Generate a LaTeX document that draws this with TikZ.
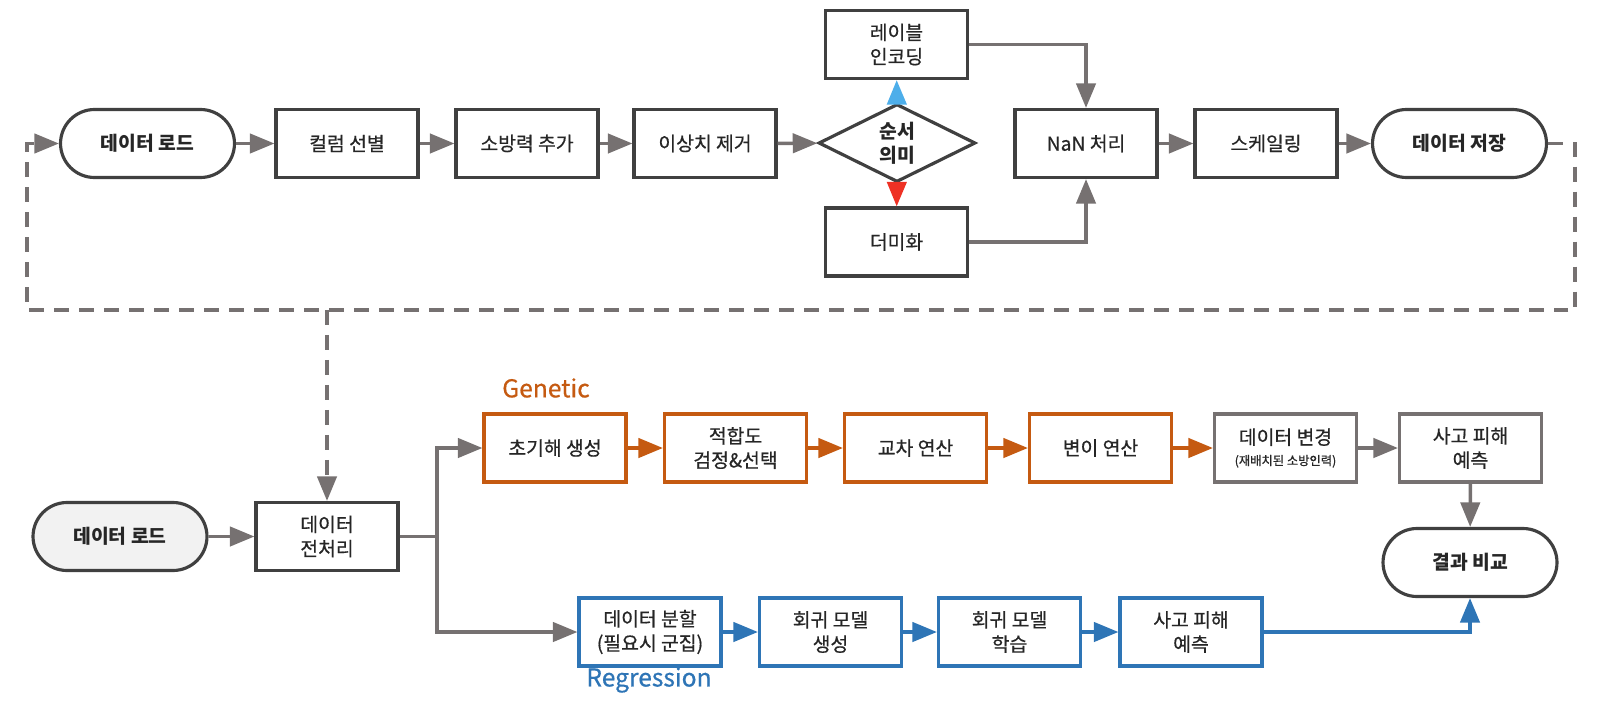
\documentclass[tikz,border=0pt]{standalone}
\usepackage{fontspec}
\setmainfont{Noto Sans CJK KR}[UprightFeatures={FakeBold=0.6}]
\usetikzlibrary{arrows.meta,shapes.geometric}

\definecolor{boxline}{HTML}{404040}
\definecolor{txt}{HTML}{262626}
\definecolor{conn}{HTML}{767171}
\definecolor{orng}{HTML}{C55A11}
\definecolor{blu}{HTML}{2E75B6}
\definecolor{skyb}{HTML}{4DAEEA}
\definecolor{redd}{HTML}{EE3124}
\definecolor{lgray}{HTML}{F2F2F2}

\begin{document}
\begin{tikzpicture}[x=0.02cm,y=-0.02cm,
  box/.style={draw=boxline,line width=1.8pt,minimum width=2.84cm,minimum height=1.36cm,inner sep=0pt,align=center,text=txt,font=\fontsize{11}{13.8}\selectfont},
  term/.style={box,rounded corners=0.68cm,minimum width=3.48cm,font=\fontsize{11}{13.8}\selectfont\bfseries},
  dia/.style={box,diamond,minimum width=3.14cm,minimum height=1.32cm,font=\fontsize{11}{13.8}\selectfont\bfseries},
  gbox/.style={box,draw=orng},
  rbox/.style={box,draw=blu},
  xbox/.style={box,draw=conn},
  arr/.style={color=conn,line width=2pt,-{Triangle[length=14pt,width=11pt]}},
  oarr/.style={arr,color=orng},
  barr/.style={arr,color=blu},
  loopline/.style={arr,line width=2pt,dash pattern=on 0.3cm off 0.2cm}]
\useasboundingbox (0,0) rectangle (1612,706);

\node[term] (s1) at (147.5,143.5){데이터 로드};
\node[box] (s2) at (347,143.5){컬럼 선별};
\node[box] (s3) at (527,143.5){소방력 추가};
\node[box] (s4) at (705,143.5){이상치 제거};
\node[dia] (s5) at (897,143){순서\\의미};
\node[box] (s6) at (896.5,44.5){레이블\\인코딩};
\node[box] (s7) at (896.5,242){더미화};
\node[box] (s8) at (1086,143.5){NaN 처리};
\node[box] (s9) at (1266,143.5){스케일링};
\node[term] (s10) at (1459.5,143.5){데이터 저장};

\coordinate (c1) at (1575,143.5);
\coordinate (c2) at (1575,310);
\coordinate (c3) at (27,310);
\coordinate (c4) at (27,143.5);
\coordinate (c5) at (327,310);

\path [arr] (s1) edge (s2);
\path [arr] (s2) edge (s3);
\path [arr] (s3) edge (s4);
\path [arr] (s4) edge (s5);
\path [arr,color=skyb] (s5) edge (s6);
\path [arr,color=redd] (s5) edge (s7);
\draw [arr] (s6.east) -| (s8.north);
\draw [arr] (s7.east) -| (s8.south);
\path [arr] (s8) edge (s9);
\path [arr] (s9) edge (s10);
%%%%%%%%
\draw [loopline] (s10.east) -- (c1) -- (c2) -- (c3) -- (c4) -- (s1.west);

%%%%%%%%%%%%%%%%%%%%%%%%%%%%%%%%%%%

\node[term,fill=lgray] (b1) at (120,536.5){데이터 로드};
\node[box] (b2) at (327,536.5){데이터\\전처리};
\coordinate (br) at (437,536.5);

\node[gbox] (g1) at (555,448){초기해 생성};
\node[gbox] (g2) at (735.5,448){적합도\\검정\&선택};
\node[gbox] (g3) at (915.5,448){교차 연산};
\node[gbox] (g4) at (1100.5,448){변이 연산};
\node[xbox] (g5) at (1285.5,448){데이터 변경\\[-2pt]{\fontsize{7}{8}\selectfont (재배치된 소방인력)}};
\node[xbox] (g6) at (1470.5,448){사고 피해\\예측};

\node[rbox] (r1) at (650,632){데이터 분할\\(필요시 군집)};
\node[rbox] (r2) at (830.5,632){회귀 모델\\생성};
\node[rbox] (r3) at (1009.5,632){회귀 모델\\학습};
\node[rbox] (r4) at (1191,632){사고 피해\\예측};

\node[term] (res) at (1470,562.5){결과 비교};

\node[text=orng,font=\fontsize{14}{16}\selectfont] (glab) at (546,388){Genetic};
\node[text=blu,font=\fontsize{14}{16}\selectfont] (rlab) at (649,680){Regression};

\draw [loopline] (c5) -- (b2.north);
\path [arr] (b1) edge (b2);
\draw [conn,line width=2pt] (b2.east) -- (br);
\draw [arr] (br) |- (g1.west);
\draw [arr] (br) |- (r1.west);
%%%%%%%%
\path [oarr] (g1) edge (g2);
\path [oarr] (g2) edge (g3);
\path [oarr] (g3) edge (g4);
\path [oarr] (g4) edge (g5);
\path [arr] (g5) edge (g6);
\path [arr] (g6) edge (res);
%%%%%%%%
\path [barr] (r1) edge (r2);
\path [barr] (r2) edge (r3);
\path [barr] (r3) edge (r4);
\draw [barr] (r4.east) -| (res.south);

\end{tikzpicture}
\end{document}
